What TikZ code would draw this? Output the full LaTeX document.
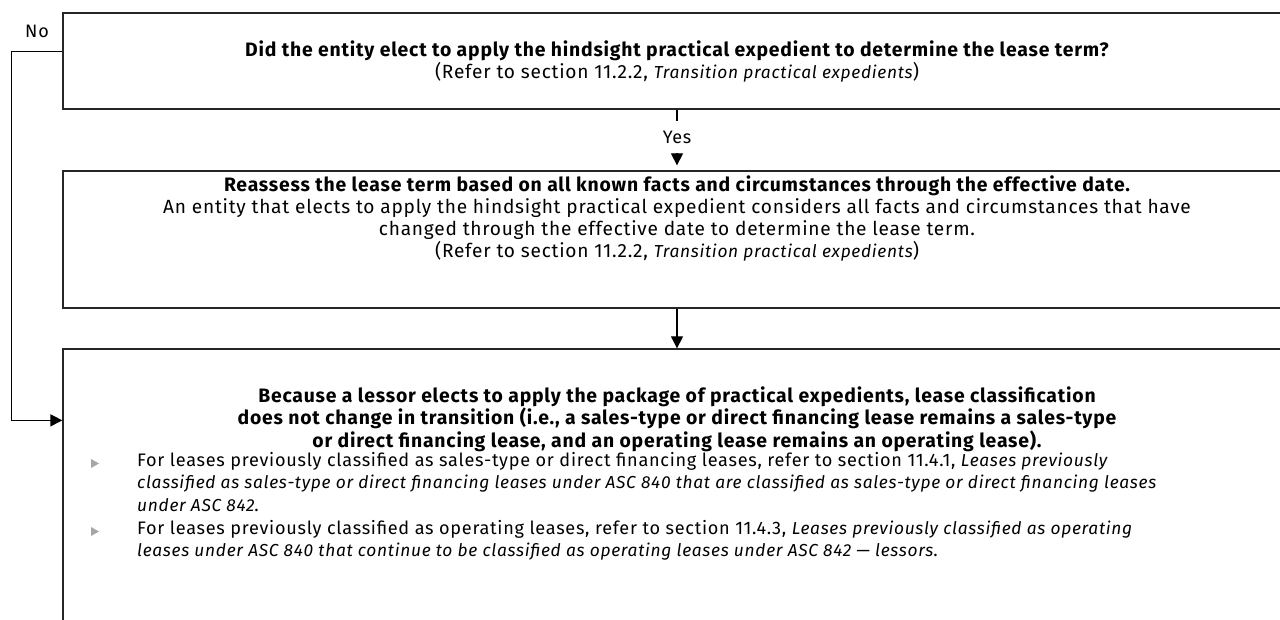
\documentclass[tikz,border=0pt]{standalone}
\usepackage{fontspec}
\setmainfont{Fira Sans}[LetterSpace=4]
\usetikzlibrary{arrows.meta,calc}
\newcommand\bfz[1]{{\fontsize{19.4}{22}\selectfont\bfseries #1}}
\newcommand\itz[1]{{\fontsize{17.35}{22.5}\selectfont\itshape #1}}
\tikzset{
  boxnode/.style={draw=black!85, line width=1.3pt, rectangle, minimum width=1228pt, inner sep=0pt},
  txt/.style={font=\fontsize{19.1}{22}\selectfont, align=center, inner sep=0pt},
  bul/.style={font=\fontsize{18.1}{22.5}\selectfont, align=left, inner sep=0pt, anchor=north west},
  arr/.style={line width=1.3pt, -{Triangle[length=12pt,width=12pt]}},
  bulmark/.style={fill=black!35}
}
\begin{document}
\begin{tikzpicture}[x=1pt,y=-1pt]
\useasboundingbox (0,0) rectangle (1280,620);
\clip (0,0) rectangle (1280,620);
\node[boxnode, minimum height=96pt] (box1) at (677,61) {};
\node[boxnode, minimum height=137pt] (box2) at (677,239.5) {};
\node[boxnode, minimum height=351pt] (box3) at (677,524.5) {};

\node[txt, font=\fontsize{19.1}{20}\selectfont] (t1) at (677,61.5) {\bfz{Did the entity elect to apply the hindsight practical expedient to determine the lease term?}\\(Refer to section 11.2.2, \itz{Transition practical expedients})};
\node[txt] (t2) at (677,219) {\bfz{Reassess the lease term based on all known facts and circumstances through the effective date.}\\An entity that elects to apply the hindsight practical expedient considers all facts and circumstances that have\\changed through the effective date to determine the lease term.\\(Refer to section 11.2.2, \itz{Transition practical expedients})};
\node[txt, font=\fontsize{19.4}{22.3}\selectfont] (t3) at (677,419) {\bfz{Because a lessor elects to apply the package of practical expedients, lease classification}\\\bfz{does not change in transition (i.e., a sales-type or direct financing lease remains a sales-type}\\\bfz{or direct financing lease, and an operating lease remains an operating lease).}};
\node[bul] (b1) at (137,452) {For leases previously classified as sales-type or direct financing leases, refer to section 11.4.1, \itz{Leases previously}\\\itz{classified as sales-type or direct financing leases under ASC 840 that are classified as sales-type or direct financing leases}\\\itz{under ASC 842}.};
\node[bul] (b2) at (137,520) {For leases previously classified as operating leases, refer to section 11.4.3, \itz{Leases previously classified as operating}\\\itz{leases under ASC 840 that continue to be classified as operating leases under ASC 842 — lessors}.};
\fill[bulmark] (91,459) -- (99,463.5) -- (91,468) -- cycle;
\fill[bulmark] (91,527) -- (99,531.5) -- (91,536) -- cycle;

\draw[arr] (box1.south) -- node[fill=white, inner xsep=2pt, minimum height=32pt, font=\fontsize{18}{20}\selectfont] (yes) {Yes} ($(box2.north)+(0,-5)$);
\draw[arr] (box2.south) -- (box3.north);
\coordinate (nostart) at ($(box1.north west)+(0,39)$);
\coordinate (noend) at ($(box3.north west)+(0,72)$);
\draw[arr] (nostart) -- ++(-51,0) |- (noend);
\node[txt, font=\fontsize{18}{20}\selectfont] (no) at (37,31) {No};
\end{tikzpicture}
\end{document}
